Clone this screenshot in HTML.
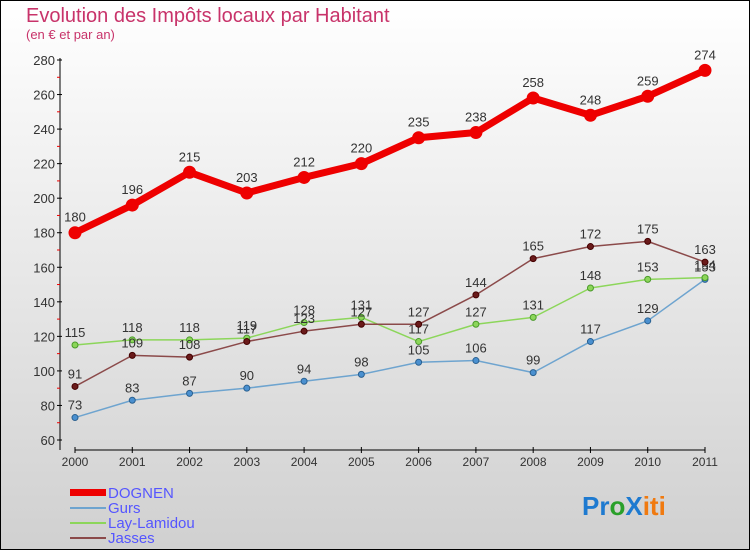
<!DOCTYPE html>
<html><head><meta charset="utf-8"><style>
html,body{margin:0;padding:0}
body{width:750px;height:550px;overflow:hidden;font-family:"Liberation Sans",sans-serif}
svg{display:block}
</style></head><body>
<svg id="chart" width="750" height="550" viewBox="0 0 750 550" xmlns="http://www.w3.org/2000/svg">
<defs><linearGradient id="bg" x1="0" y1="0" x2="0" y2="1"><stop offset="0" stop-color="#ffffff"/><stop offset="1" stop-color="#d0d0d0"/></linearGradient></defs>
<rect x="0.5" y="0.5" width="749" height="549" fill="url(#bg)" stroke="#000"/>
<text x="26" y="22" font-size="20" fill="#c8336a">Evolution des Impôts locaux par Habitant</text>
<text x="26" y="39" font-size="13" fill="#c8336a">(en € et par an)</text>
<g id="axes"></g>
<g id="series"></g>
<g>
<rect x="70" y="489" width="36" height="7" fill="#ee0000"/>
<text x="108" y="498" font-size="15" fill="#5555ff">DOGNEN</text>
<rect x="70" y="507" width="36" height="2" fill="#6ea4cf"/>
<text x="108" y="513" font-size="15" fill="#5555ff">Gurs</text>
<rect x="70" y="522" width="36" height="2" fill="#8cd65a"/>
<text x="108" y="528" font-size="15" fill="#5555ff">Lay-Lamidou</text>
<rect x="70" y="537" width="36" height="2" fill="#8b4a4a"/>
<text x="108" y="543" font-size="15" fill="#5555ff">Jasses</text>
</g>
<text x="582" y="515" font-size="26" font-weight="bold"><tspan fill="#1e7ad0">Pr</tspan><tspan fill="#2aa02a">o</tspan><tspan fill="#1e7ad0">X</tspan><tspan fill="#f07a10">iti</tspan></text>
</svg>
<script>
const years=["2000","2001","2002","2003","2004","2005","2006","2007","2008","2009","2010","2011"];
const yTicks=[60,80,100,120,140,160,180,200,220,240,260,280];
const dognen=[180,196,215,203,212,220,235,238,258,248,259,274];
const gurs=[73,83,87,90,94,98,105,106,99,117,129,153];
const lay=[115,118,118,119,128,131,117,127,131,148,153,154];
const jasses=[91,109,108,117,123,127,127,144,165,172,175,163];
const NS="http://www.w3.org/2000/svg";
const X0=75,X1=705,YMIN=60,YMAX=280,PY0=440,PY1=60;
function xs(i){return X0+i*(X1-X0)/(years.length-1);}
function ys(v){return PY0-(v-YMIN)*(PY0-PY1)/(YMAX-YMIN);}
function mk(tag,attrs,parent){const e=document.createElementNS(NS,tag);for(const k in attrs)e.setAttribute(k,attrs[k]);parent.appendChild(e);return e;}
const ax=document.getElementById('axes');
let l=mk('line',{x1:60,y1:58,x2:60,y2:450,stroke:'#000','stroke-width':1},ax);


l=mk('line',{x1:75,y1:450,x2:705,y2:450,stroke:'#000','stroke-width':1},ax);


yTicks.forEach((v,i)=>{
  mk('line',{x1:57,y1:ys(v),x2:62,y2:ys(v),stroke:'#000'},ax);
  const t=mk('text',{x:55,y:ys(v)+5,'font-size':13,fill:'#333','text-anchor':'end'},ax);
  t.textContent=v;
  
  
  if(i<yTicks.length-1)mk('line',{x1:57,y1:ys(v+10),x2:60,y2:ys(v+10),stroke:'#e00'},ax);
});
years.forEach((y,i)=>{
  mk('line',{x1:xs(i),y1:447,x2:xs(i),y2:453,stroke:'#000'},ax);
  const t=mk('text',{x:xs(i),y:466,'font-size':12,fill:'#333','text-anchor':'middle'},ax);
  t.textContent=y;
  
  
});
const sg=document.getElementById('series');
function draw(name,data,color,w,r,mfill,mstroke){
  const g=mk('g',{},sg);
  
  
  const p=mk('polyline',{points:data.map((v,i)=>xs(i)+','+ys(v)).join(' '),fill:'none',stroke:color,'stroke-width':w,'stroke-linejoin':'round'},g);
  
  
  data.forEach((v,i)=>{
    const c=mk('circle',{cx:xs(i),cy:ys(v),r:r,fill:mfill,stroke:mstroke,'stroke-width':1},g);
    
    
    const t=mk('text',{x:xs(i),y:ys(v)-(r+5),'font-size':13,fill:'#333','text-anchor':'middle'},g);
    t.textContent=v;
    
    
  });
}
draw('gurs',gurs,'#6ea4cf',1.5,3,'#4a90d0','#2a6090');
draw('lay-lamidou',lay,'#8cd65a',1.5,3,'#8cd65a','#4a9a2a');
draw('jasses',jasses,'#8b4a4a',1.5,3,'#6a1a1a','#400');
draw('dognen',dognen,'#ee0000',7,6,'#ee0000','#ee0000');
</script>
</body></html>
